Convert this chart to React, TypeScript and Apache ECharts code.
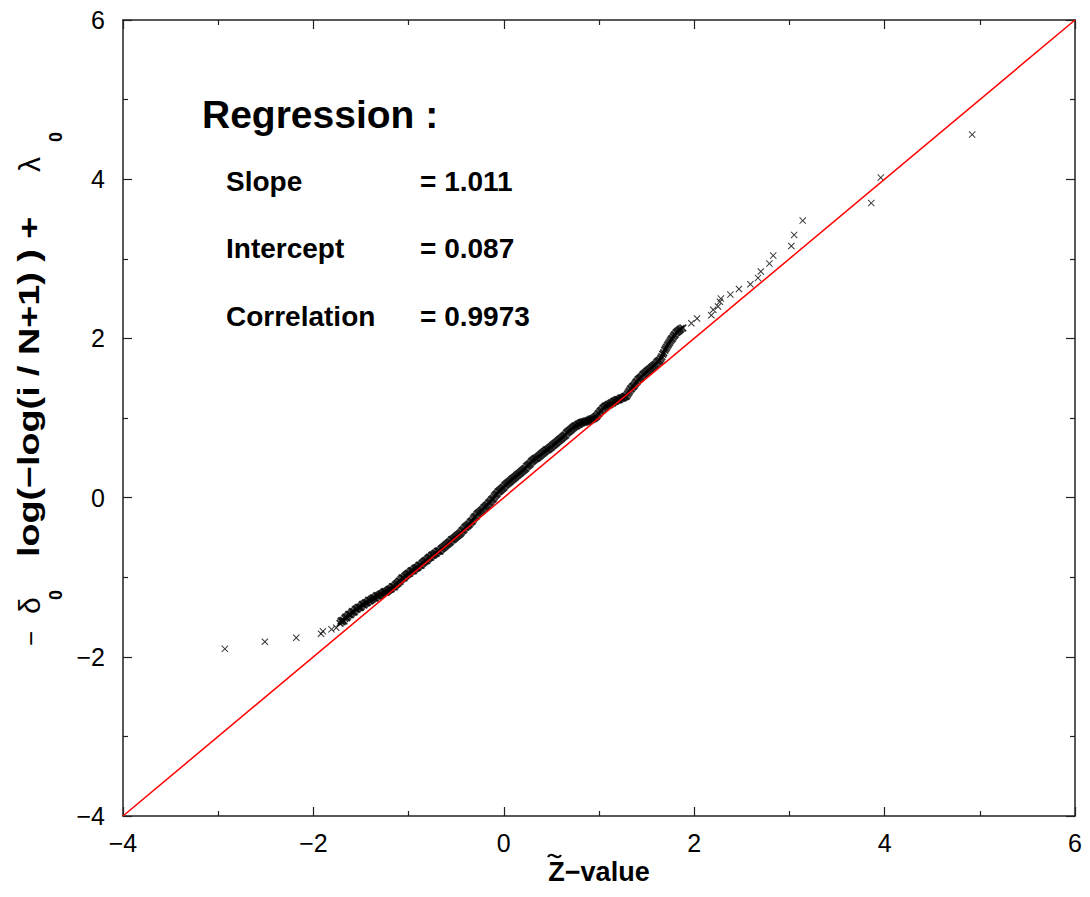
import React, { useEffect, useRef } from "react";
import * as echarts from "echarts";

const xTicks = [-4, -2, 0, 2, 4, 6];
const yTicks = [-4, -2, 0, 2, 4, 6];
const refLine = [[-4, -4], [6, 6]];

const lowerTail = [
  [-2.93, -1.90], [-2.51, -1.81], [-2.18, -1.76], [-1.92, -1.71], [-1.90, -1.68],
  [-1.81, -1.655], [-1.76, -1.635],
];

const bodyPoints = [
  [-1.72, -1.58], [-1.70, -1.56], [-1.68, -1.55], [-1.66, -1.50], [-1.64, -1.49], [-1.62, -1.47],
  [-1.60, -1.45], [-1.58, -1.44], [-1.56, -1.41], [-1.54, -1.40], [-1.52, -1.38], [-1.50, -1.37],
  [-1.48, -1.34], [-1.46, -1.33], [-1.44, -1.32], [-1.42, -1.29], [-1.40, -1.29], [-1.38, -1.27],
  [-1.36, -1.26], [-1.34, -1.24], [-1.32, -1.24], [-1.30, -1.22], [-1.28, -1.21], [-1.26, -1.19],
  [-1.24, -1.19], [-1.22, -1.17], [-1.20, -1.15], [-1.18, -1.14], [-1.16, -1.12], [-1.14, -1.10],
  [-1.12, -1.08], [-1.10, -1.05], [-1.08, -1.03], [-1.06, -1.01], [-1.04, -0.99], [-1.02, -0.97],
  [-1.00, -0.95], [-0.98, -0.93], [-0.96, -0.92], [-0.94, -0.90], [-0.92, -0.88], [-0.90, -0.87],
  [-0.88, -0.85], [-0.86, -0.83], [-0.84, -0.81], [-0.82, -0.79], [-0.80, -0.77], [-0.78, -0.75],
  [-0.76, -0.73], [-0.74, -0.72], [-0.72, -0.70], [-0.70, -0.68], [-0.68, -0.67], [-0.66, -0.65],
  [-0.64, -0.63], [-0.62, -0.61], [-0.60, -0.59], [-0.58, -0.57], [-0.56, -0.55], [-0.54, -0.53],
  [-0.52, -0.51], [-0.50, -0.49], [-0.48, -0.47], [-0.46, -0.45], [-0.44, -0.42], [-0.42, -0.40],
  [-0.40, -0.37], [-0.38, -0.35], [-0.36, -0.33], [-0.34, -0.30], [-0.32, -0.27], [-0.30, -0.24],
  [-0.28, -0.21], [-0.26, -0.19], [-0.24, -0.17], [-0.22, -0.15], [-0.20, -0.12], [-0.18, -0.10],
  [-0.16, -0.07], [-0.14, -0.05], [-0.12, -0.02], [-0.10, 0.01], [-0.08, 0.04], [-0.06, 0.07],
  [-0.04, 0.09], [-0.02, 0.11], [0.00, 0.13], [0.02, 0.16], [0.04, 0.18], [0.06, 0.20],
  [0.08, 0.22], [0.10, 0.24], [0.12, 0.26], [0.14, 0.28], [0.16, 0.30], [0.18, 0.32],
  [0.20, 0.34], [0.22, 0.36], [0.24, 0.39], [0.26, 0.41], [0.28, 0.43], [0.30, 0.46],
  [0.32, 0.48], [0.34, 0.49], [0.36, 0.51], [0.38, 0.53], [0.40, 0.55], [0.42, 0.57],
  [0.44, 0.59], [0.46, 0.60], [0.48, 0.62], [0.50, 0.64], [0.52, 0.66], [0.54, 0.68],
  [0.56, 0.70], [0.58, 0.72], [0.60, 0.74], [0.62, 0.76], [0.64, 0.78], [0.66, 0.81],
  [0.68, 0.83], [0.70, 0.85], [0.72, 0.87], [0.74, 0.89], [0.76, 0.90], [0.78, 0.92],
  [0.80, 0.93], [0.82, 0.94], [0.84, 0.95], [0.86, 0.96], [0.88, 0.96], [0.90, 0.97],
  [0.92, 0.98], [0.94, 0.99], [0.96, 1.01], [0.98, 1.03], [1.00, 1.06], [1.02, 1.09],
  [1.04, 1.12], [1.06, 1.14], [1.08, 1.15], [1.10, 1.17], [1.12, 1.18], [1.14, 1.19],
  [1.16, 1.21], [1.18, 1.22], [1.20, 1.23], [1.22, 1.24], [1.24, 1.25], [1.26, 1.26],
  [1.28, 1.27], [1.30, 1.30], [1.32, 1.34], [1.34, 1.37], [1.36, 1.40], [1.38, 1.43],
  [1.40, 1.46], [1.42, 1.49], [1.44, 1.51], [1.46, 1.54], [1.48, 1.56], [1.50, 1.58],
  [1.52, 1.60], [1.54, 1.62], [1.56, 1.64], [1.58, 1.66], [1.60, 1.68], [1.62, 1.71],
  [1.64, 1.73], [1.66, 1.77], [1.68, 1.82], [1.70, 1.87], [1.72, 1.91], [1.74, 1.95],
  [1.76, 1.99], [1.78, 2.02], [1.80, 2.05], [1.82, 2.08], [1.84, 2.10], [1.86, 2.12],
  [1.88, 2.13],
];

const bodyPointsB = [
  [-1.71, -1.55], [-1.69, -1.54], [-1.67, -1.52], [-1.65, -1.51], [-1.63, -1.47], [-1.61, -1.47],
  [-1.59, -1.43], [-1.57, -1.43], [-1.55, -1.40], [-1.53, -1.38], [-1.51, -1.38], [-1.49, -1.35],
  [-1.47, -1.35], [-1.45, -1.32], [-1.43, -1.31], [-1.41, -1.30], [-1.39, -1.28], [-1.37, -1.26],
  [-1.35, -1.26], [-1.33, -1.23], [-1.31, -1.23], [-1.29, -1.21], [-1.27, -1.20], [-1.25, -1.18],
  [-1.23, -1.18], [-1.21, -1.16], [-1.19, -1.15], [-1.17, -1.12], [-1.15, -1.12], [-1.13, -1.09],
  [-1.11, -1.07], [-1.09, -1.05], [-1.07, -1.01], [-1.05, -1.01], [-1.03, -0.98], [-1.01, -0.96],
  [-0.99, -0.95], [-0.97, -0.92], [-0.95, -0.92], [-0.93, -0.89], [-0.91, -0.88], [-0.89, -0.85],
  [-0.87, -0.85], [-0.85, -0.82], [-0.83, -0.80], [-0.81, -0.79], [-0.79, -0.76], [-0.77, -0.75],
  [-0.75, -0.72], [-0.73, -0.71], [-0.71, -0.70], [-0.69, -0.67], [-0.67, -0.67], [-0.65, -0.64],
  [-0.63, -0.62], [-0.61, -0.60], [-0.59, -0.58], [-0.57, -0.56], [-0.55, -0.53], [-0.53, -0.52],
  [-0.51, -0.50], [-0.49, -0.48], [-0.47, -0.46], [-0.45, -0.44], [-0.43, -0.41], [-0.41, -0.38],
  [-0.39, -0.36], [-0.37, -0.34], [-0.35, -0.31], [-0.33, -0.29], [-0.31, -0.25], [-0.29, -0.23],
  [-0.27, -0.20], [-0.25, -0.18], [-0.23, -0.16], [-0.21, -0.13], [-0.19, -0.11], [-0.17, -0.09],
  [-0.15, -0.06], [-0.13, -0.03], [-0.11, -0.01], [-0.09, 0.03], [-0.07, 0.05], [-0.05, 0.08],
  [-0.03, 0.10], [-0.01, 0.12], [0.01, 0.15], [0.03, 0.17], [0.05, 0.19], [0.07, 0.21],
  [0.09, 0.23], [0.11, 0.25], [0.13, 0.27], [0.15, 0.29], [0.17, 0.31], [0.19, 0.33],
  [0.21, 0.35], [0.23, 0.37], [0.25, 0.40], [0.27, 0.42], [0.29, 0.45], [0.31, 0.47],
  [0.33, 0.49], [0.35, 0.50], [0.37, 0.52], [0.39, 0.54], [0.41, 0.56], [0.43, 0.58],
  [0.45, 0.60], [0.47, 0.61], [0.49, 0.63], [0.51, 0.65], [0.53, 0.67], [0.55, 0.69],
  [0.57, 0.71], [0.59, 0.73], [0.61, 0.75], [0.63, 0.77], [0.65, 0.79], [0.67, 0.82],
  [0.69, 0.84], [0.71, 0.86], [0.73, 0.88], [0.75, 0.90], [0.77, 0.91], [0.79, 0.92],
  [0.81, 0.94], [0.83, 0.95], [0.85, 0.95], [0.87, 0.96], [0.89, 0.97], [0.91, 0.98],
  [0.93, 0.99], [0.95, 1.00], [0.97, 1.02], [0.99, 1.05], [1.01, 1.08], [1.03, 1.10],
  [1.05, 1.13], [1.07, 1.15], [1.09, 1.16], [1.11, 1.17], [1.13, 1.19], [1.15, 1.20],
  [1.17, 1.21], [1.19, 1.23], [1.21, 1.23], [1.23, 1.25], [1.25, 1.25], [1.27, 1.27],
  [1.29, 1.28], [1.31, 1.32], [1.33, 1.36], [1.35, 1.39], [1.37, 1.41], [1.39, 1.45],
  [1.41, 1.48], [1.43, 1.50], [1.45, 1.52], [1.47, 1.55], [1.49, 1.57], [1.51, 1.59],
  [1.53, 1.61], [1.55, 1.63], [1.57, 1.65], [1.59, 1.67], [1.61, 1.70], [1.63, 1.72],
  [1.65, 1.75], [1.67, 1.80], [1.69, 1.85], [1.71, 1.89], [1.73, 1.93], [1.75, 1.97],
  [1.77, 2.00], [1.79, 2.04], [1.81, 2.07], [1.83, 2.09], [1.85, 2.11],
];

const upperTail = [
  [1.97, 2.19], [2.03, 2.25], [2.18, 2.29], [2.20, 2.36], [2.25, 2.40], [2.27, 2.46],
  [2.28, 2.50], [2.38, 2.55], [2.47, 2.62], [2.59, 2.68], [2.67, 2.76], [2.70, 2.84],
  [2.79, 2.94], [2.83, 3.04], [3.02, 3.16], [3.05, 3.30], [3.14, 3.48], [3.86, 3.70],
  [3.96, 4.02], [4.92, 4.56],
];

const titleText = "Regression :";
const statLabels = ["Slope", "Intercept", "Correlation"];
const statValues = ["= 1.011", "= 0.087", "= 0.9973"];
const xTitle = "Z\u2212value";
const yTitleMain = "log(\u2212log(i / N+1) ) + ";

const FONT = "'Liberation Sans', Arial, Helvetica, sans-serif";
const CROSS = "path://M0,1L1,0L5,4L9,0L10,1L6,5L10,9L9,10L5,6L1,10L0,9L4,5Z";
const CROSS_BOLD = "path://M0,1.6L1.6,0L5,3.4L8.4,0L10,1.6L6.6,5L10,8.4L8.4,10L5,6.6L1.6,10L0,8.4L3.4,5Z";

const fmt = (v: number) => String(v).replace("-", "\u2212");

function axisCommon(showLabel: boolean, margin: number) {
  return {
    type: "value" as const,
    min: -4,
    max: 6,
    interval: 2,
    axisLine: { show: true, onZero: false, lineStyle: { color: "#222", width: 1.5 } },
    axisTick: { show: true, inside: true, length: 9, lineStyle: { color: "#222", width: 1.2 } },
    minorTick: { show: true, splitNumber: 2, length: 5, lineStyle: { color: "#222", width: 1.2 } },
    splitLine: { show: false },
    axisLabel: {
      show: showLabel,
      fontSize: 25,
      color: "#000",
      fontFamily: FONT,
      margin,
      formatter: fmt,
    },
  };
}

export default function App() {
  const ref = useRef<HTMLDivElement>(null);
  useEffect(() => {
    const chart = echarts.init(ref.current!, null, { renderer: "svg" });
    const graphics: any[] = [];
    graphics.push({
      type: "text", x: 202, y: 114,
      style: { text: titleText, fontSize: 39, fontWeight: "bold", fontFamily: FONT, fill: "#000", textVerticalAlign: "middle" },
    });
    const rowY = [181, 248, 316];
    statLabels.forEach((s, i) => {
      graphics.push({
        type: "text", x: 226, y: rowY[i],
        style: { text: s, fontSize: 28, fontWeight: "bold", fontFamily: FONT, fill: "#000", textVerticalAlign: "middle" },
      });
      graphics.push({
        type: "text", x: 420, y: rowY[i],
        style: { text: statValues[i], fontSize: 28, fontWeight: "bold", fontFamily: FONT, fill: "#000", textVerticalAlign: "middle" },
      });
    });
    // x axis title
    graphics.push({
      type: "text", x: 599, y: 872,
      style: { text: xTitle, fontSize: 27, fontWeight: "bold", fontFamily: FONT, fill: "#000", textAlign: "center", textVerticalAlign: "middle" },
    });
    graphics.push({
      type: "bezierCurve",
      shape: { x1: 548, y1: 857, x2: 561, y2: 855, cpx1: 552, cpy1: 850, cpx2: 557, cpy2: 862 },
      style: { stroke: "#000", lineWidth: 2.2, fill: "none" },
    });
    // y axis title (rotated)
    const rot = Math.PI / 2;
    graphics.push({
      type: "text", x: 31, y: 646, rotation: rot,
      style: { text: "\u2212", fontSize: 26, fontFamily: FONT, fill: "#000", textAlign: "left", textVerticalAlign: "middle" },
    });
    graphics.push({
      type: "text", x: 29, y: 614, rotation: rot,
      style: { text: "\u03B4", fontSize: 30, fontFamily: FONT, fill: "#000", textAlign: "left", textVerticalAlign: "middle" },
    });
    graphics.push({
      type: "text", x: 56, y: 600, rotation: rot,
      style: { text: "0", fontSize: 18, fontWeight: "bold", fontFamily: FONT, fill: "#000", textAlign: "left", textVerticalAlign: "middle" },
    });
    graphics.push({
      type: "text", x: 29, y: 557, rotation: rot, scaleX: 1.3,
      style: { text: yTitleMain, fontSize: 29, fontWeight: "bold", fontFamily: FONT, fill: "#000", textAlign: "left", textVerticalAlign: "middle" },
    });
    graphics.push({
      type: "text", x: 29, y: 172, rotation: rot,
      style: { text: "\u03BB", fontSize: 30, fontFamily: FONT, fill: "#000", textAlign: "left", textVerticalAlign: "middle" },
    });
    graphics.push({
      type: "text", x: 56, y: 142, rotation: rot,
      style: { text: "0", fontSize: 18, fontWeight: "bold", fontFamily: FONT, fill: "#000", textAlign: "left", textVerticalAlign: "middle" },
    });

    chart.setOption({
      animation: false,
      backgroundColor: "#fff",
      grid: { left: 123, right: 15, top: 20, bottom: 81, containLabel: false },
      xAxis: [
        { ...axisCommon(true, 14), position: "bottom" },
        { ...axisCommon(false, 8), position: "top" },
      ],
      yAxis: [
        { ...axisCommon(true, 18), position: "left" },
        { ...axisCommon(false, 8), position: "right" },
      ],
      graphic: graphics,
      series: [
        {
          type: "scatter",
          data: [...lowerTail, ...upperTail],
          symbol: CROSS,
          symbolSize: 7,
          itemStyle: { color: "#000" },
          z: 2,
        },
        {
          type: "scatter",
          data: [...bodyPoints, ...bodyPointsB],
          symbol: CROSS_BOLD,
          symbolSize: 8,
          itemStyle: { color: "#000" },
          z: 2,
        },
        {
          type: "line",
          data: refLine,
          symbol: "none",
          lineStyle: { color: "#ff0000", width: 1.5 },
          z: 3,
        },
      ],
    });
    return () => chart.dispose();
  }, []);
  return (
    <div
      ref={ref}
      style={{ position: "fixed", left: 0, top: 0, width: 1090, height: 897, background: "#fff" }}
    />
  );
}
